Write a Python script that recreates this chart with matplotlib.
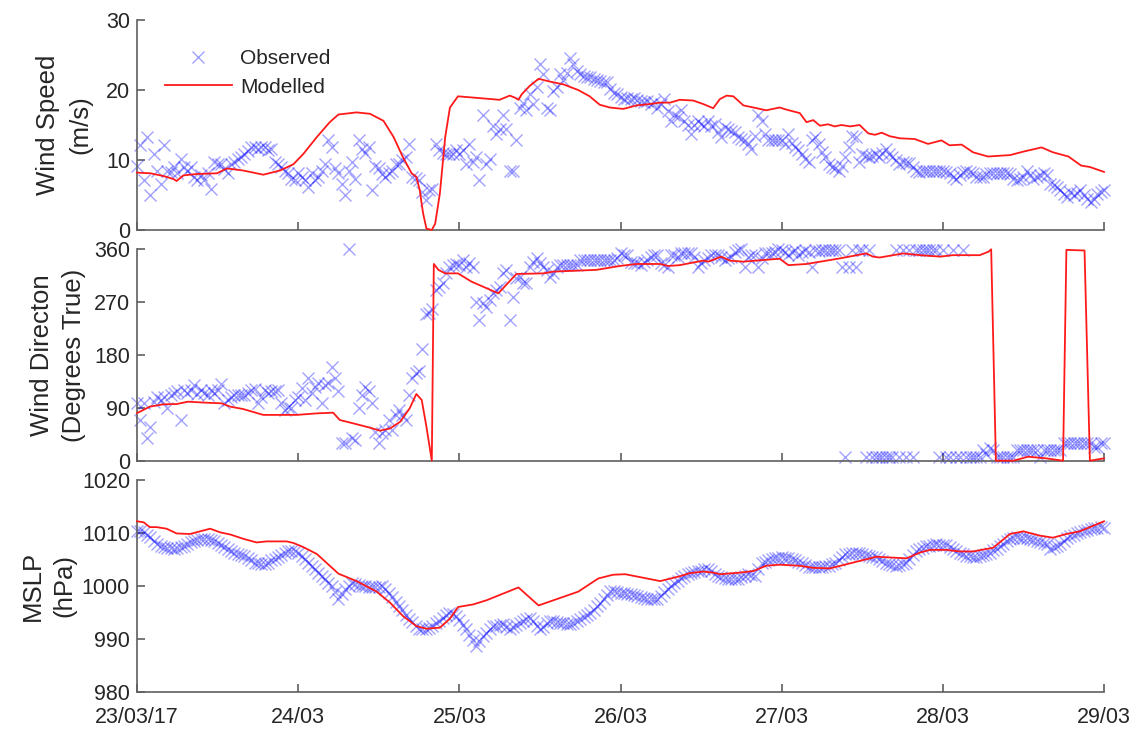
import numpy as np
import matplotlib
matplotlib.use("Agg")
import matplotlib.pyplot as plt

plt.rcParams['font.family'] = ['Liberation Sans', 'DejaVu Sans']

# ---------------------------------------------------------------------------
# Time axis: hours since 23/03/17 00:00
# ---------------------------------------------------------------------------
tick_hours = [0, 24, 48, 72, 96, 120, 144]
tick_labels = ['23/03/17', '24/03', '25/03', '26/03', '27/03', '28/03', '29/03']

# Observations are half-hourly
obs_step_hours = 0.5

# Observed wind speed (m/s)
obs_speed = [
    9.2, 12.1, 7.1, 13.3, 5.0, 10.9, 8.5, 6.6, 12.1, 8.5, 8.3, 9.0,
    8.1, 10.2, 9.0, 8.5, 9.0, 7.6, 7.1, 7.8, 7.1, 8.1, 5.9, 9.7,
    9.5, 9.5, 8.7, 8.1, 9.5, 9.7, 10.2, 10.4, 10.9, 11.3, 11.8, 11.8,
    11.6, 11.8, 11.8, 11.4, 11.6, 9.7, 9.5, 9.0, 8.5, 8.1, 7.3, 7.1,
    8.1, 7.6, 7.1, 6.2, 8.1, 7.1, 7.6, 8.5, 9.5, 12.8, 11.8, 8.8,
    8.1, 6.6, 5.0, 8.5, 9.7, 7.3, 12.8, 11.6, 11.0, 11.8, 5.7, 9.2,
    8.8, 8.0, 7.6, 8.2, 8.5, 9.5, 9.5, 10.0, 10.4, 12.3, 7.6, 7.4,
    7.1, 5.5, 4.3, 5.7, 5.9, 12.3, 11.4, 11.0, 10.9, 10.9, 10.9, 11.4,
    10.9, 11.4, 9.5, 12.3, 9.7, 10.5, 7.1, 16.4, 9.5, 10.2, 14.9, 13.7,
    14.5, 16.4, 14.5, 8.5, 8.5, 12.8, 17.5, 18.2, 17.1, 19.4, 18.0, 20.5,
    23.7, 22.3, 17.5, 17.1, 19.9, 20.5, 22.3, 21.5, 22.5, 24.6, 23.7, 22.7,
    22.3, 22.0, 21.8, 21.8, 21.6, 21.5, 21.3, 21.2, 21.1, 20.1, 19.6, 19.4,
    19.0, 18.7, 18.9, 18.7, 18.8, 18.6, 18.5, 18.3, 18.5, 18.0, 18.3, 17.5,
    18.0, 18.7, 17.0, 15.6, 16.5, 16.1, 17.1, 15.6, 15.0, 13.7, 15.0, 15.6,
    15.2, 14.8, 15.6, 14.9, 15.2, 14.0, 13.3, 14.7, 14.5, 14.2, 14.0, 13.3,
    13.0, 12.8, 12.3, 11.6, 13.5, 16.4, 15.6, 13.7, 12.8, 12.8, 12.8, 12.8,
    12.8, 12.3, 13.7, 12.5, 11.8, 11.4, 10.9, 10.2, 9.7, 12.8, 13.3, 12.3,
    11.2, 10.4, 9.5, 9.0, 8.8, 8.5, 9.2, 10.4, 11.8, 13.5, 13.3, 9.7,
    10.9, 10.6, 10.4, 10.6, 10.9, 10.4, 11.0, 11.6, 10.9, 10.4, 10.0, 9.5,
    9.7, 9.6, 9.6, 9.0, 8.5, 8.3, 8.5, 8.5, 8.4, 8.5, 8.5, 8.4,
    8.5, 8.3, 8.1, 7.6, 7.3, 7.8, 8.3, 8.5, 8.3, 8.1, 7.6, 7.6,
    7.6, 8.0, 8.1, 8.1, 8.1, 8.1, 8.1, 8.1, 8.0, 7.3, 7.1, 7.3,
    7.6, 8.5, 7.8, 7.3, 7.6, 7.8, 8.1, 7.8, 6.6, 6.4, 6.2, 5.7,
    5.2, 4.7, 5.5, 5.0, 5.3, 5.7, 5.0, 4.5, 4.0, 4.5, 5.2, 5.5, 5.7,
]

# Observed wind direction (degrees true)
obs_direction = [
    98, 69, 98, 38, 58, 100, 109, 103, 109, 89, 112, 115,
    118, 69, 120, 115, 120, 129, 113, 120, 115, 112, 120, 115,
    120, 131, 98, 103, 109, 112, 112, 112, 112, 115, 120, 122,
    98, 109, 120, 115, 118, 118, 120, 98, 86, 92, 89, 103,
    109, 123, 103, 140, 115, 126, 132, 98, 129, 132, 160, 140,
    118, 30, 30, 360, 38, 35, 89, 112, 126, 118, 98, 49,
    30, 47, 52, 69, 52, 78, 86, 78, 69, 112, 140, 149,
    152, 191, 250, 251, 259, 291, 296, 302, 319, 330, 333, 335,
    333, 342, 330, 336, 330, 271, 240, 268, 262, 274, 285, 291,
    296, 319, 325, 240, 279, 311, 313, 302, 302, 330, 339, 345,
    336, 330, 325, 313, 320, 330, 333, 333, 333, 333, 333, 333,
    342, 342, 342, 342, 342, 342, 342, 342, 342, 342, 342, 345,
    353, 350, 350, 339, 336, 336, 333, 339, 342, 347, 350, 350,
    336, 333, 330, 350, 350, 347, 353, 353, 353, 353, 347, 330,
    336, 342, 345, 350, 350, 350, 347, 342, 345, 347, 356, 358,
    360, 330, 347, 350, 350, 330, 345, 353, 353, 353, 356, 360,
    359, 355, 350, 356, 359, 350, 356, 359, 355, 330, 359, 357,
    359, 359, 359, 359, 359, 359, 330, 7, 330, 359, 330, 359,
    359, 7, 359, 7, 7, 7, 7, 7, 7, 7, 359, 7,
    359, 7, 359, 7, 359, 359, 359, 359, 359, 359, 359, 7,
    359, 7, 7, 359, 7, 7, 359, 7, 7, 7, 7, 7,
    18, 12, 21, 18, 7, 7, 7, 7, 7, 7, 18, 18,
    18, 18, 18, 18, 18, 7, 18, 18, 18, 18, 18, 18,
    30, 30, 30, 30, 30, 30, 30, 30, 30, 24, 24, 30, 30,
]

# Observed mean sea level pressure (hPa)
obs_mslp = [
    1010.4, 1010.3, 1010.1, 1009.7, 1009.2, 1008.5, 1007.9, 1007.6, 1007.3, 1007.2, 1007.1, 1007.0,
    1007.1, 1007.3, 1007.6, 1007.9, 1008.2, 1008.5, 1008.7, 1008.8, 1008.9, 1008.8, 1008.7, 1008.5,
    1008.1, 1007.7, 1007.3, 1007.0, 1006.6, 1006.3, 1006.1, 1005.9, 1005.7, 1005.3, 1004.8, 1004.4,
    1004.3, 1004.2, 1004.1, 1004.4, 1004.8, 1005.1, 1005.5, 1005.9, 1006.3, 1006.5, 1006.6, 1006.6,
    1006.2, 1005.7, 1005.1, 1004.4, 1003.8, 1003.2, 1002.5, 1001.9, 1001.3, 1000.6, 1000.0, 998.8,
    997.5, 998.5, 999.4, 1000.0, 1000.6, 1000.4, 1000.2, 1000.0, 999.9, 999.8, 999.7, 999.7,
    999.8, 1000.0, 999.4, 998.7, 997.9, 997.0, 996.2, 995.4, 994.5, 993.7, 993.1, 992.4,
    991.8, 991.8, 991.9, 992.1, 992.5, 993.0, 993.4, 993.9, 994.4, 994.9, 994.6, 994.3,
    993.5, 992.6, 991.8, 990.8, 989.7, 988.6, 989.5, 990.5, 991.1, 991.8, 992.4, 992.5,
    992.6, 992.7, 992.3, 991.8, 992.2, 992.6, 993.0, 993.3, 993.7, 994.0, 993.3, 992.5,
    991.8, 992.3, 992.9, 993.4, 993.3, 993.1, 993.0, 992.9, 992.8, 992.7, 993.0, 993.4,
    993.7, 994.1, 994.5, 994.9, 995.5, 996.2, 996.8, 997.6, 998.3, 999.1, 999.0, 998.8,
    998.7, 998.6, 998.5, 998.4, 998.2, 998.0, 997.8, 997.7, 997.6, 997.5, 997.5, 997.5,
    998.1, 998.8, 999.4, 999.9, 1000.5, 1001.0, 1001.4, 1001.8, 1002.2, 1002.4, 1002.6, 1002.8,
    1002.9, 1003.1, 1003.2, 1002.8, 1002.3, 1001.9, 1001.7, 1001.5, 1001.3, 1001.3, 1001.3, 1001.3,
    1001.6, 1001.9, 1002.2, 1002.0, 1001.9, 1003.1, 1004.4, 1004.6, 1004.9, 1005.1, 1005.2, 1005.3,
    1005.4, 1005.3, 1005.2, 1005.1, 1004.9, 1004.6, 1004.4, 1004.0, 1003.6, 1003.5, 1003.5, 1003.5,
    1003.6, 1003.7, 1003.8, 1004.1, 1004.4, 1004.9, 1005.5, 1006.0, 1006.1, 1006.2, 1006.3, 1006.2,
    1006.0, 1005.8, 1005.7, 1005.5, 1005.4, 1005.1, 1004.7, 1004.4, 1004.2, 1004.0, 1003.8, 1003.9,
    1004.1, 1004.4, 1005.1, 1005.9, 1006.6, 1006.9, 1007.2, 1007.5, 1007.6, 1007.8, 1007.9, 1007.8,
    1007.8, 1007.7, 1007.3, 1007.0, 1006.6, 1006.3, 1006.0, 1005.7, 1005.6, 1005.5, 1005.4, 1005.6,
    1005.8, 1006.0, 1006.3, 1006.7, 1007.0, 1007.5, 1008.0, 1008.5, 1008.8, 1009.0, 1009.2, 1009.1,
    1009.1, 1009.0, 1008.8, 1008.7, 1008.5, 1008.3, 1008.1, 1007.9, 1007.0, 1007.3, 1007.6, 1007.9,
    1008.4, 1009.0, 1009.5, 1009.7, 1009.9, 1010.1, 1010.3, 1010.6, 1010.8, 1010.9, 1011.0, 1011.1, 1010.9,
]

# Modelled wind speed (hours, m/s)
model_speed_hours = [
    0, 2, 4, 5.4, 5.9, 6.9, 8.9, 11.9, 13.4, 15.8, 18.8, 21.3, 23.3, 24.8, 26.8,
    28.7, 30.0, 32.7, 34.7, 36.7, 38.2, 39.6, 40.9, 41.6, 42.1, 42.6, 43.1, 43.9,
    44.4, 45.1, 45.9, 46.6, 47.8, 54.0, 55.5, 56.3, 56.8, 57.3, 58.5, 59.8, 61.5,
    63.5, 65.7, 67.4, 68.9, 70.4, 72.4, 74.4, 76.4, 77.9, 79.4, 80.8, 82.8, 84.3,
    85.8, 86.8, 87.8, 88.8, 90.3, 91.8, 93.7, 95.7, 96.7, 98.7, 99.7, 100.7, 101.7,
    102.9, 103.9, 104.9, 106.2, 107.6, 108.9, 109.9, 110.9, 112.1, 113.6, 115.8,
    117.8, 119.8, 121.0, 122.8, 124.5, 126.7, 130.0, 132.0, 134.7, 136.4, 138.7,
    140.6, 141.9, 144.0,
]
model_speed = [
    8.2, 8.1, 7.7, 7.3, 7.0, 7.8, 8.0, 8.1, 8.8, 8.5, 7.9, 8.5, 9.4, 10.9, 13.3,
    15.4, 16.5, 16.8, 16.6, 15.6, 13.3, 10.4, 8.1, 7.6, 5.7, 2.4, 0.2, 0.0,
    0.9, 5.2, 13.3, 17.5, 19.1, 18.6, 19.2, 18.9, 18.6, 19.4, 20.6, 21.6, 21.2,
    20.8, 20.0, 19.1, 17.9, 17.5, 17.3, 17.8, 18.0, 18.2, 18.2, 18.6, 18.5, 18.0,
    17.4, 18.7, 19.2, 19.1, 17.8, 17.5, 17.1, 17.5, 17.2, 16.7, 15.4, 15.7, 14.9,
    15.1, 14.8, 15.0, 14.8, 15.0, 13.8, 13.6, 13.9, 13.4, 13.1, 13.0,
    12.3, 12.8, 12.1, 12.2, 11.1, 10.5, 10.7, 11.2, 11.8, 11.1, 10.5,
    9.2, 9.0, 8.3,
]

# Modelled wind direction (hours, degrees true)
model_direction_hours = [
    0, 1.9, 3.9, 5.9, 7.6, 9.9, 12.6, 13.9, 15.8, 18.8, 23.8, 26.8, 29.2, 30.2,
    32.2, 34.7, 36.2, 37.7, 39.2, 40.6, 41.6, 42.4, 43.1, 43.9, 44.2, 44.9, 45.9,
    47.8, 49.8, 53.8, 56.5, 60.5, 62.0, 68.4, 71.9, 74.4, 77.9, 79.1, 80.8, 84.3,
    85.1, 87.0, 88.3, 90.3, 95.7, 97.0, 99.7, 104.7, 108.6, 109.6, 110.6, 114.1,
    116.6, 119.6, 121.5, 125.5, 126.8, 127.2, 127.9, 130.5, 132.7, 135.4, 137.9,
    138.4, 141.1, 141.9, 144.0,
]
model_direction = [
    81, 92, 96, 96.5, 100.5, 99, 97.7, 92, 88, 78, 78, 80.6, 81.8, 69.3,
    63.6, 56.2, 51.1, 55, 66.4, 89, 113.6, 103.3, 57.9, 0, 335, 324.8, 319,
    319, 305, 285, 318, 319, 322, 325, 331.6, 335, 335, 331.6, 333, 340.7,
    339, 347.5, 340.7, 339, 344, 333, 335, 344.6, 353, 347.5, 346, 353,
    350, 347.5, 350, 350, 356, 360, 0, 0, 6.8, 4, 0,
    359, 358, 0, 4,
]

# Modelled mean sea level pressure (hours, hPa)
model_mslp_hours = [
    0, 1.0, 1.9, 2.9, 4.4, 5.9, 7.9, 9.4, 10.9, 12.4, 13.9, 15.8, 17.8, 19.3,
    22.3, 23.3, 24.8, 26.8, 28.7, 30.0, 32.7, 35.7, 37.7, 39.6, 41.6, 43.1, 45.1,
    46.6, 47.8, 50.1, 52.1, 56.8, 59.8, 65.7, 68.7, 70.9, 72.7, 77.9, 80.8, 82.3,
    84.3, 85.8, 86.8, 89.8, 91.8, 93.7, 95.7, 98.7, 100.7, 103.2, 105.7, 107.6,
    110.1, 114.6, 116.6, 118.1, 120.5, 122.5, 124.5, 127.5, 130.0, 132.0, 134.4,
    136.4, 138.4, 140.4, 144.0,
]
model_mslp = [
    1012.2, 1012.0, 1011.1, 1011.1, 1010.8, 1009.9, 1009.8, 1010.3, 1010.8, 1010.1,
    1009.7, 1008.9, 1008.2, 1008.4, 1008.4, 1008.1, 1007.3, 1006.0, 1003.8, 1002.3,
    1000.9, 998.9, 996.8, 994.3, 992.4, 991.9, 992.1, 993.8, 996.0, 996.5,
    997.3, 999.7, 996.3, 998.9, 1001.4, 1002.1, 1002.2, 1000.9, 1001.8, 1002.4,
    1002.7, 1002.5, 1002.2, 1002.5, 1002.8, 1003.8, 1004.0, 1003.8, 1003.4, 1003.3,
    1004.1, 1004.7, 1005.5, 1005.2, 1006.3, 1006.8, 1006.8, 1006.5, 1006.5, 1007.2,
    1009.8, 1010.3, 1009.5, 1009.1, 1009.8, 1010.3, 1012.2,
]

panels = [
    dict(obs=obs_speed, mt=model_speed_hours, mv=model_speed,
         ylabel='Wind Speed\n(m/s)', ylim=(0, 30), yticks=[0, 10, 20, 30],
         label_x=-0.0465),
    dict(obs=obs_direction, mt=model_direction_hours, mv=model_direction,
         ylabel='Wind Directon\n(Degrees True)', ylim=(0, 360),
         yticks=[0, 90, 180, 270, 360], label_x=-0.0527),
    dict(obs=obs_mslp, mt=model_mslp_hours, mv=model_mslp,
         ylabel='MSLP\n(hPa)', ylim=(980, 1020),
         yticks=[980, 990, 1000, 1010, 1020], label_x=-0.0631),
]

# ---------------------------------------------------------------------------
# Figure
# ---------------------------------------------------------------------------
W, H = 1141, 733
fig = plt.figure(figsize=(W / 100, H / 100), dpi=100)

left_px, right_px = 137, 1104
rows_px = [(20, 230), (249.3, 460.7), (480, 691.7)]

axis_grey = '#5f5f5f'
text_col = '#262626'

axes = []
for i, (p, (top, bot)) in enumerate(zip(panels, rows_px)):
    ax = fig.add_axes([left_px / W, 1 - bot / H,
                       (right_px - left_px) / W, (bot - top) / H])
    axes.append(ax)

    t_obs = np.arange(len(p['obs'])) * obs_step_hours
    ax.plot(t_obs, p['obs'], linestyle='none', marker='x', markersize=8,
            markeredgewidth=1.0, color=(0.0, 0.0, 1.0, 0.36),
            label='Observed', clip_on=False, zorder=2)
    ax.plot(p['mt'], p['mv'], color='#ff1a1a', linewidth=1.3,
            label='Modelled', clip_on=False, zorder=3)

    ax.set_xlim(0, 144)
    ax.set_ylim(*p['ylim'])
    ax.set_yticks(p['yticks'])
    ax.set_xticks(tick_hours)
    if i == 2:
        ax.set_xticklabels(tick_labels)
    else:
        ax.set_xticklabels([])

    for side in ('top', 'right'):
        ax.spines[side].set_visible(False)
    for side in ('left', 'bottom'):
        ax.spines[side].set_color(axis_grey)
        ax.spines[side].set_linewidth(1.2)

    ax.tick_params(direction='in', length=6, width=1.2, color=axis_grey,
                   labelsize=15.5, labelcolor=text_col, pad=5)
    ax.tick_params(axis='x', pad=11)
    ax.set_ylabel(p['ylabel'], fontsize=18.5, color=text_col,
                  linespacing=1.4)
    ax.yaxis.set_label_coords(p['label_x'], 0.5)

leg = axes[0].legend(loc='upper left', bbox_to_anchor=(0.029, 0.86),
                     frameon=False, fontsize=15, handlelength=3.2,
                     handletextpad=0.4, labelspacing=0.45,
                     borderpad=0, borderaxespad=0, numpoints=1)
for txt in leg.get_texts():
    txt.set_color(text_col)

fig.savefig('out.png', dpi=100)
